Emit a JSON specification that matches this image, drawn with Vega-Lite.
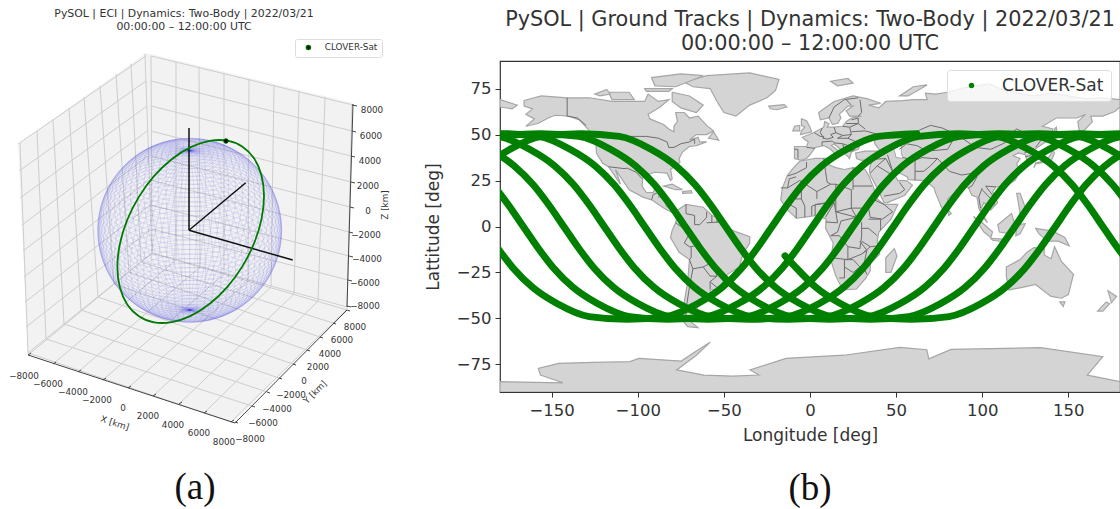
{
"$schema":"https://vega.github.io/schema/vega-lite/v6.json",
"background":"white",
"padding":{"left":0,"right":0,"top":7,"bottom":0},
"bounds":"flush",
"spacing":80,
"config":{"font":"DejaVu Sans","view":{"stroke":null}},
"resolve":{"scale":{"color":"independent"},"legend":{"color":"independent"}},
"datasets":{
"panes":[
{"g":"a","u":18,"v":143},{"g":"a","u":146,"v":52},{"g":"a","u":152,"v":250},{"g":"a","u":28,"v":353},
{"g":"b","u":146,"v":52},{"g":"b","u":353,"v":102},{"g":"b","u":347,"v":307},{"g":"b","u":152,"v":250},
{"g":"c","u":28,"v":353},{"g":"c","u":152,"v":250},{"g":"c","u":347,"v":307},{"g":"c","u":233,"v":421}
],
"grid":[
{"u":151,"v":55,"u2":152,"v2":252},{"u":176,"v":61,"u2":176,"v2":259},{"u":199,"v":66,"u2":200,"v2":266},{"u":224,"v":72,"u2":224,"v2":273},{"u":249,"v":78,"u2":248,"v2":280},{"u":274,"v":84,"u2":271,"v2":286},{"u":299,"v":90,"u2":294,"v2":293},{"u":325,"v":96,"u2":318,"v2":300},{"u":352,"v":103,"u2":347,"v2":308},
{"u":151,"v":55,"u2":353,"v2":104},{"u":151,"v":80,"u2":352,"v2":130},{"u":151,"v":105,"u2":351,"v2":155},{"u":151,"v":130,"u2":351,"v2":181},{"u":151,"v":155,"u2":350,"v2":206},{"u":151,"v":179,"u2":349,"v2":231},{"u":151,"v":204,"u2":349,"v2":255},{"u":152,"v":228,"u2":348,"v2":279},{"u":152,"v":252,"u2":347,"v2":306},
{"u":18,"v":143,"u2":146,"v2":55},{"u":19,"v":170,"u2":146,"v2":80},{"u":20,"v":197,"u2":147,"v2":105},{"u":22,"v":224,"u2":147,"v2":130},{"u":23,"v":250,"u2":148,"v2":155},{"u":24,"v":276,"u2":149,"v2":179},{"u":25,"v":301,"u2":150,"v2":204},{"u":26,"v":326,"u2":151,"v2":228},{"u":28,"v":352,"u2":152,"v2":252},
{"u":20,"v":142,"u2":28,"v2":352},{"u":37,"v":130,"u2":46,"v2":338},{"u":53,"v":118,"u2":64,"v2":323},{"u":69,"v":107,"u2":81,"v2":309},{"u":84,"v":96,"u2":98,"v2":296},{"u":100,"v":85,"u2":114,"v2":283},{"u":116,"v":73,"u2":129,"v2":271},{"u":131,"v":63,"u2":141,"v2":261},{"u":145,"v":53,"u2":152,"v2":252},
{"u":152,"v":252,"u2":28,"v2":354},{"u":176,"v":259,"u2":53,"v2":363},{"u":200,"v":266,"u2":78,"v2":371},{"u":224,"v":273,"u2":103,"v2":379},{"u":248,"v":280,"u2":128,"v2":387},{"u":271,"v":286,"u2":153,"v2":395},{"u":294,"v":293,"u2":179,"v2":403},{"u":318,"v":300,"u2":204,"v2":412},{"u":347,"v":308,"u2":231,"v2":421},
{"u":28,"v":352,"u2":231,"v2":421},{"u":46,"v":338,"u2":252,"v2":405},{"u":64,"v":323,"u2":267,"v2":391},{"u":81,"v":309,"u2":279,"v2":377},{"u":98,"v":296,"u2":293,"v2":363},{"u":114,"v":283,"u2":307,"v2":349},{"u":129,"v":271,"u2":320,"v2":336},{"u":141,"v":261,"u2":333,"v2":322},{"u":152,"v":252,"u2":347,"v2":309}
],
"axes3d":[
{"u":28,"v":354,"u2":235,"v2":422},{"u":235,"v":422,"u2":347,"v2":309},{"u":353,"v":103,"u2":347,"v2":306},
{"u":28,"v":354,"u2":31,"v2":352},{"u":53,"v":363,"u2":56,"v2":361},{"u":78,"v":371,"u2":81,"v2":369},{"u":103,"v":379,"u2":106,"v2":377},{"u":128,"v":387,"u2":131,"v2":385},{"u":153,"v":395,"u2":156,"v2":393},{"u":179,"v":403,"u2":182,"v2":401},{"u":204,"v":412,"u2":207,"v2":410},{"u":231,"v":421,"u2":234,"v2":419},
{"u":235,"v":421,"u2":238,"v2":422},{"u":252,"v":405,"u2":255,"v2":406},{"u":267,"v":391,"u2":270,"v2":392},{"u":279,"v":377,"u2":282,"v2":378},{"u":293,"v":363,"u2":296,"v2":364},{"u":307,"v":349,"u2":310,"v2":350},{"u":320,"v":336,"u2":323,"v2":337},{"u":333,"v":322,"u2":336,"v2":323},{"u":347,"v":309,"u2":350,"v2":310},
{"u":352,"v":104,"u2":357,"v2":105},{"u":352,"v":130,"u2":356,"v2":131},{"u":351,"v":155,"u2":355,"v2":156},{"u":351,"v":181,"u2":355,"v2":182},{"u":350,"v":206,"u2":354,"v2":207},{"u":349,"v":231,"u2":353,"v2":232},{"u":349,"v":255,"u2":353,"v2":256},{"u":348,"v":279,"u2":352,"v2":280},{"u":347,"v":305,"u2":351,"v2":306}
],
"parallels":[
{"u":189.7,"v":229.3,"k":1},{"u":189.7,"v":225.1,"k":0.9986},{"u":189.7,"v":233.5,"k":0.9986},{"u":189.7,"v":221,"k":0.9945},{"u":189.7,"v":237.6,"k":0.9945},{"u":189.7,"v":216.8,"k":0.9877},{"u":189.7,"v":241.8,"k":0.9877},{"u":189.7,"v":212.7,"k":0.9781},{"u":189.7,"v":245.9,"k":0.9781},{"u":189.7,"v":208.7,"k":0.9659},{"u":189.7,"v":249.9,"k":0.9659},{"u":189.7,"v":204.7,"k":0.9511},{"u":189.7,"v":253.9,"k":0.9511},{"u":189.7,"v":200.7,"k":0.9336},{"u":189.7,"v":257.9,"k":0.9336},{"u":189.7,"v":196.9,"k":0.9135},{"u":189.7,"v":261.7,"k":0.9135},{"u":189.7,"v":193.1,"k":0.891},{"u":189.7,"v":265.5,"k":0.891},{"u":189.7,"v":189.5,"k":0.866},{"u":189.7,"v":269.2,"k":0.866},{"u":189.7,"v":185.9,"k":0.8387},{"u":189.7,"v":272.7,"k":0.8387},{"u":189.7,"v":182.5,"k":0.809},{"u":189.7,"v":276.2,"k":0.809},{"u":189.7,"v":179.2,"k":0.7771},{"u":189.7,"v":279.5,"k":0.7771},{"u":189.7,"v":176,"k":0.7431},{"u":189.7,"v":282.6,"k":0.7431},{"u":189.7,"v":172.9,"k":0.7071},{"u":189.7,"v":285.7,"k":0.7071},{"u":189.7,"v":170.1,"k":0.6691},{"u":189.7,"v":288.5,"k":0.6691},{"u":189.7,"v":167.4,"k":0.6293},{"u":189.7,"v":291.2,"k":0.6293},{"u":189.7,"v":164.8,"k":0.5878},{"u":189.7,"v":293.8,"k":0.5878},{"u":189.7,"v":162.5,"k":0.5446},{"u":189.7,"v":296.1,"k":0.5446},{"u":189.7,"v":160.3,"k":0.5},{"u":189.7,"v":298.3,"k":0.5},{"u":189.7,"v":158.3,"k":0.454},{"u":189.7,"v":300.3,"k":0.454},{"u":189.7,"v":156.5,"k":0.4067},{"u":189.7,"v":302.1,"k":0.4067},{"u":189.7,"v":154.9,"k":0.3584},{"u":189.7,"v":303.7,"k":0.3584},{"u":189.7,"v":153.5,"k":0.309},{"u":189.7,"v":305.1,"k":0.309},{"u":189.7,"v":152.3,"k":0.2588},{"u":189.7,"v":306.3,"k":0.2588},{"u":189.7,"v":151.3,"k":0.2079},{"u":189.7,"v":307.3,"k":0.2079},{"u":189.7,"v":150,"k":0.1045},{"u":189.7,"v":308.6,"k":0.1045},{"u":189.7,"v":149.7,"k":0.052},{"u":189.7,"v":308.9,"k":0.052},{"u":189.7,"v":149.6,"k":0.025},{"u":189.7,"v":309,"k":0.025}
],
"meridians":[
{"u":189.7,"v":229.3,"q":"m0","rot":0},{"u":189.7,"v":229.3,"q":"m5","rot":350.1},{"u":189.7,"v":229.3,"q":"m10","rot":340.6},{"u":189.7,"v":229.3,"q":"m15","rot":331.8},{"u":189.7,"v":229.3,"q":"m20","rot":323.9},{"u":189.7,"v":229.3,"q":"m25","rot":317},{"u":189.7,"v":229.3,"q":"m30","rot":310.9},{"u":189.7,"v":229.3,"q":"m35","rot":305.5},{"u":189.7,"v":229.3,"q":"m40","rot":300.8},{"u":189.7,"v":229.3,"q":"m45","rot":296.6},{"u":189.7,"v":229.3,"q":"m50","rot":292.8},{"u":189.7,"v":229.3,"q":"m55","rot":289.3},{"u":189.7,"v":229.3,"q":"m60","rot":286.1},{"u":189.7,"v":229.3,"q":"m65","rot":283.1},{"u":189.7,"v":229.3,"q":"m70","rot":280.3},{"u":189.7,"v":229.3,"q":"m75","rot":277.6},{"u":189.7,"v":229.3,"q":"m80","rot":275},{"u":189.7,"v":229.3,"q":"m85","rot":272.5},{"u":189.7,"v":229.3,"q":"m90","rot":270},{"u":189.7,"v":229.3,"q":"m85","rot":267.5},{"u":189.7,"v":229.3,"q":"m80","rot":265},{"u":189.7,"v":229.3,"q":"m75","rot":262.4},{"u":189.7,"v":229.3,"q":"m70","rot":259.7},{"u":189.7,"v":229.3,"q":"m65","rot":256.9},{"u":189.7,"v":229.3,"q":"m60","rot":253.9},{"u":189.7,"v":229.3,"q":"m55","rot":250.7},{"u":189.7,"v":229.3,"q":"m50","rot":247.2},{"u":189.7,"v":229.3,"q":"m45","rot":243.4},{"u":189.7,"v":229.3,"q":"m40","rot":239.2},{"u":189.7,"v":229.3,"q":"m35","rot":234.5},{"u":189.7,"v":229.3,"q":"m30","rot":229.1},{"u":189.7,"v":229.3,"q":"m25","rot":223},{"u":189.7,"v":229.3,"q":"m20","rot":216.1},{"u":189.7,"v":229.3,"q":"m15","rot":208.2},{"u":189.7,"v":229.3,"q":"m10","rot":199.4},{"u":189.7,"v":229.3,"q":"m5","rot":189.9}
],
"orbit":[
{"o":0,"u":264,"v":195},{"o":1,"u":261.5,"v":174.4},{"o":2,"u":254.2,"v":157.6},{"o":3,"u":242.5,"v":145.8},{"o":4,"u":227.4,"v":139.7},{"o":5,"u":209.7,"v":139.9},{"o":6,"u":190.7,"v":146.1},{"o":7,"u":171.7,"v":158.2},{"o":8,"u":154,"v":175.2},{"o":9,"u":138.9,"v":195.9},{"o":10,"u":127.2,"v":219},{"o":11,"u":119.9,"v":242.9},{"o":12,"u":117.4,"v":266},{"o":13,"u":119.9,"v":286.6},{"o":14,"u":127.2,"v":303.4},{"o":15,"u":138.9,"v":315.2},{"o":16,"u":154,"v":321.3},{"o":17,"u":171.7,"v":321.1},{"o":18,"u":190.7,"v":314.9},{"o":19,"u":209.7,"v":302.8},{"o":20,"u":227.4,"v":285.8},{"o":21,"u":242.5,"v":265.1},{"o":22,"u":254.2,"v":242},{"o":23,"u":261.5,"v":218.1}
],
"eci":[
{"u":189,"v":229.3,"u2":189,"v2":127},{"u":189,"v":229.3,"u2":245.7,"v2":181.7},{"u":189,"v":229.3,"u2":292.7,"v2":259}
],
"sat":[{"u":226,"v":140,"series":"CLOVER-Sat"}],
"labels3d":[
{"u":24,"v":375,"t":"−8000","a":0},{"u":48,"v":383,"t":"−6000","a":0},{"u":73,"v":391,"t":"−4000","a":0},{"u":97,"v":399,"t":"−2000","a":0},{"u":123,"v":407,"t":"0","a":0},{"u":148,"v":415,"t":"2000","a":0},{"u":173,"v":424,"t":"4000","a":0},{"u":199,"v":432,"t":"6000","a":0},{"u":224,"v":441,"t":"8000","a":0},
{"u":250,"v":438,"t":"−8000","a":0},{"u":263,"v":422,"t":"−6000","a":0},{"u":277,"v":408,"t":"−4000","a":0},{"u":291,"v":394,"t":"−2000","a":0},{"u":304,"v":380,"t":"0","a":0},{"u":318,"v":366,"t":"2000","a":0},{"u":330,"v":353,"t":"4000","a":0},{"u":342,"v":339,"t":"6000","a":0},{"u":355,"v":326,"t":"8000","a":0},
{"u":372,"v":109,"t":"8000","a":0},{"u":371,"v":135,"t":"6000","a":0},{"u":370,"v":160,"t":"4000","a":0},{"u":368,"v":185,"t":"2000","a":0},{"u":368,"v":210,"t":"0","a":0},{"u":366,"v":234,"t":"−2000","a":0},{"u":367,"v":258,"t":"−4000","a":0},{"u":365,"v":282,"t":"−6000","a":0},{"u":365,"v":305,"t":"−8000","a":0},
{"u":115,"v":422,"t":"X [km]","a":18},{"u":315,"v":391,"t":"Y [km]","a":315},{"u":385,"v":204,"t":"Z [km]","a":270}
],
"capA":[{"u":195,"v":487,"t":"(a)"}],
"capB":[{"lon":0,"lat":-142.9,"t":"(b)"}],
"satB":[{"lon":-14.5,"lat":-16,"series":"CLOVER-Sat"}],
"land":[
{"g":"na","lon":-166,"lat":68.5},{"g":"na","lon":-156,"lat":71},{"g":"na","lon":-141,"lat":70},{"g":"na","lon":-128,"lat":70},{"g":"na","lon":-115,"lat":68},{"g":"na","lon":-108,"lat":68},{"g":"na","lon":-96,"lat":68},{"g":"na","lon":-94,"lat":72},{"g":"na","lon":-88,"lat":68},{"g":"na","lon":-82,"lat":69},{"g":"na","lon":-87,"lat":65},{"g":"na","lon":-94,"lat":61},{"g":"na","lon":-93,"lat":58.5},{"g":"na","lon":-85,"lat":55.5},{"g":"na","lon":-82,"lat":53},{"g":"na","lon":-79,"lat":51.5},{"g":"na","lon":-79,"lat":54.5},{"g":"na","lon":-77,"lat":57},{"g":"na","lon":-78,"lat":62},{"g":"na","lon":-73,"lat":62},{"g":"na","lon":-70,"lat":59},{"g":"na","lon":-65,"lat":60},{"g":"na","lon":-60,"lat":55},{"g":"na","lon":-56,"lat":52},{"g":"na","lon":-60,"lat":50},{"g":"na","lon":-66,"lat":50},{"g":"na","lon":-70,"lat":47},{"g":"na","lon":-65,"lat":48.5},{"g":"na","lon":-64,"lat":46},{"g":"na","lon":-60,"lat":46},{"g":"na","lon":-66,"lat":44},{"g":"na","lon":-70,"lat":43.5},{"g":"na","lon":-74,"lat":40.5},{"g":"na","lon":-76,"lat":37},{"g":"na","lon":-75.5,"lat":35},{"g":"na","lon":-81,"lat":31},{"g":"na","lon":-80,"lat":26},{"g":"na","lon":-81,"lat":25},{"g":"na","lon":-83,"lat":29},{"g":"na","lon":-90,"lat":29.5},{"g":"na","lon":-97,"lat":27.5},{"g":"na","lon":-97.5,"lat":22},{"g":"na","lon":-95,"lat":18.5},{"g":"na","lon":-91,"lat":18.5},{"g":"na","lon":-90,"lat":21},{"g":"na","lon":-87,"lat":21},{"g":"na","lon":-88,"lat":16},{"g":"na","lon":-83.5,"lat":15},{"g":"na","lon":-83.5,"lat":11},{"g":"na","lon":-80,"lat":9},{"g":"na","lon":-77.5,"lat":8.5},{"g":"na","lon":-80,"lat":7.5},{"g":"na","lon":-85,"lat":10},{"g":"na","lon":-92,"lat":14.5},{"g":"na","lon":-97,"lat":16},{"g":"na","lon":-105,"lat":20},{"g":"na","lon":-109,"lat":25.5},{"g":"na","lon":-113,"lat":31},{"g":"na","lon":-110,"lat":23},{"g":"na","lon":-117,"lat":32.5},{"g":"na","lon":-120.5,"lat":34.5},{"g":"na","lon":-124,"lat":40},{"g":"na","lon":-124.5,"lat":48},{"g":"na","lon":-130,"lat":54},{"g":"na","lon":-134,"lat":58},{"g":"na","lon":-140,"lat":60},{"g":"na","lon":-148,"lat":60.5},{"g":"na","lon":-152,"lat":59},{"g":"na","lon":-158,"lat":56},{"g":"na","lon":-165,"lat":54.5},{"g":"na","lon":-160,"lat":58.5},{"g":"na","lon":-165,"lat":61},{"g":"na","lon":-161,"lat":64},{"g":"na","lon":-166,"lat":65.5},
{"g":"gl","lon":-73,"lat":78.5},{"g":"gl","lon":-60,"lat":82},{"g":"gl","lon":-35,"lat":83.5},{"g":"gl","lon":-18,"lat":80},{"g":"gl","lon":-20,"lat":74},{"g":"gl","lon":-25,"lat":70},{"g":"gl","lon":-35,"lat":66},{"g":"gl","lon":-43,"lat":60},{"g":"gl","lon":-50,"lat":62},{"g":"gl","lon":-54,"lat":68},{"g":"gl","lon":-58,"lat":75},{"g":"gl","lon":-68,"lat":76},
{"g":"baf","lon":-80,"lat":73},{"g":"baf","lon":-70,"lat":71},{"g":"baf","lon":-62,"lat":66},{"g":"baf","lon":-66,"lat":62},{"g":"baf","lon":-75,"lat":64.5},{"g":"baf","lon":-80,"lat":68},
{"g":"vic","lon":-117,"lat":73},{"g":"vic","lon":-105,"lat":73},{"g":"vic","lon":-102,"lat":69},{"g":"vic","lon":-115,"lat":69},
{"g":"ell","lon":-90,"lat":76.5},{"g":"ell","lon":-78,"lat":76},{"g":"ell","lon":-62,"lat":82},{"g":"ell","lon":-75,"lat":83},{"g":"ell","lon":-92,"lat":81},
{"g":"ban","lon":-125,"lat":72},{"g":"ban","lon":-118,"lat":74.5},{"g":"ban","lon":-116,"lat":72},{"g":"ban","lon":-122,"lat":71},
{"g":"dev","lon":-96,"lat":75},{"g":"dev","lon":-80,"lat":75},{"g":"dev","lon":-82,"lat":73.5},{"g":"dev","lon":-95,"lat":73.5},
{"g":"nf","lon":-59,"lat":48},{"g":"nf","lon":-53,"lat":47},{"g":"nf","lon":-56,"lat":51.5},
{"g":"ice","lon":-24,"lat":65.5},{"g":"ice","lon":-15,"lat":66.3},{"g":"ice","lon":-13.5,"lat":65},{"g":"ice","lon":-19,"lat":63.5},{"g":"ice","lon":-23,"lat":64},
{"g":"cu","lon":-85,"lat":22},{"g":"cu","lon":-80,"lat":23},{"g":"cu","lon":-74,"lat":20},{"g":"cu","lon":-78,"lat":20},
{"g":"hi","lon":-74,"lat":19},{"g":"hi","lon":-69,"lat":19.5},{"g":"hi","lon":-68.5,"lat":18.3},{"g":"hi","lon":-74,"lat":18},
{"g":"sa","lon":-77.5,"lat":8.5},{"g":"sa","lon":-72,"lat":12},{"g":"sa","lon":-62,"lat":10.5},{"g":"sa","lon":-57,"lat":6},{"g":"sa","lon":-51,"lat":4},{"g":"sa","lon":-50,"lat":0},{"g":"sa","lon":-44,"lat":-2.5},{"g":"sa","lon":-35,"lat":-5.5},{"g":"sa","lon":-35,"lat":-9},{"g":"sa","lon":-39,"lat":-15},{"g":"sa","lon":-41,"lat":-22},{"g":"sa","lon":-48,"lat":-26},{"g":"sa","lon":-53,"lat":-34},{"g":"sa","lon":-58,"lat":-34.5},{"g":"sa","lon":-57,"lat":-38},{"g":"sa","lon":-62,"lat":-39},{"g":"sa","lon":-65,"lat":-42},{"g":"sa","lon":-66,"lat":-47},{"g":"sa","lon":-69,"lat":-52},{"g":"sa","lon":-65,"lat":-55},{"g":"sa","lon":-71,"lat":-54.5},{"g":"sa","lon":-75,"lat":-50},{"g":"sa","lon":-73,"lat":-41},{"g":"sa","lon":-71,"lat":-30},{"g":"sa","lon":-70,"lat":-18},{"g":"sa","lon":-76,"lat":-14},{"g":"sa","lon":-81,"lat":-6},{"g":"sa","lon":-80,"lat":-2},{"g":"sa","lon":-78,"lat":2},{"g":"sa","lon":-77,"lat":7},
{"g":"af","lon":-6,"lat":35.5},{"g":"af","lon":3,"lat":37},{"g":"af","lon":10,"lat":37},{"g":"af","lon":11,"lat":33.5},{"g":"af","lon":15,"lat":32},{"g":"af","lon":20,"lat":31},{"g":"af","lon":25,"lat":32},{"g":"af","lon":32,"lat":31},{"g":"af","lon":34,"lat":28},{"g":"af","lon":37,"lat":21},{"g":"af","lon":39,"lat":15},{"g":"af","lon":43,"lat":12},{"g":"af","lon":51,"lat":12},{"g":"af","lon":47,"lat":4},{"g":"af","lon":40,"lat":-3},{"g":"af","lon":39,"lat":-8},{"g":"af","lon":40.5,"lat":-15},{"g":"af","lon":35,"lat":-20},{"g":"af","lon":35,"lat":-24},{"g":"af","lon":32.5,"lat":-28},{"g":"af","lon":27,"lat":-34},{"g":"af","lon":19,"lat":-34.5},{"g":"af","lon":15,"lat":-27},{"g":"af","lon":12,"lat":-18},{"g":"af","lon":13.5,"lat":-9},{"g":"af","lon":9,"lat":-1},{"g":"af","lon":9.5,"lat":4},{"g":"af","lon":4,"lat":6},{"g":"af","lon":-4,"lat":5},{"g":"af","lon":-8,"lat":4.5},{"g":"af","lon":-13,"lat":9},{"g":"af","lon":-17,"lat":14.5},{"g":"af","lon":-16,"lat":21},{"g":"af","lon":-13,"lat":28},{"g":"af","lon":-9.5,"lat":32},
{"g":"mad","lon":44,"lat":-17},{"g":"mad","lon":49,"lat":-12},{"g":"mad","lon":50.5,"lat":-16},{"g":"mad","lon":47,"lat":-25},{"g":"mad","lon":44,"lat":-25},
{"g":"ea","lon":-9,"lat":37},{"g":"ea","lon":-9,"lat":43.5},{"g":"ea","lon":-2,"lat":43.5},{"g":"ea","lon":-1,"lat":46},{"g":"ea","lon":-4.5,"lat":48.5},{"g":"ea","lon":2,"lat":51},{"g":"ea","lon":8,"lat":54},{"g":"ea","lon":8.5,"lat":57},{"g":"ea","lon":11,"lat":56},{"g":"ea","lon":10,"lat":54},{"g":"ea","lon":14,"lat":54},{"g":"ea","lon":19,"lat":54.5},{"g":"ea","lon":21,"lat":57},{"g":"ea","lon":24,"lat":59},{"g":"ea","lon":30,"lat":60},{"g":"ea","lon":23,"lat":60},{"g":"ea","lon":21,"lat":63},{"g":"ea","lon":25,"lat":65.5},{"g":"ea","lon":22,"lat":65.5},{"g":"ea","lon":17,"lat":61},{"g":"ea","lon":18,"lat":59},{"g":"ea","lon":16,"lat":56},{"g":"ea","lon":13,"lat":55.5},{"g":"ea","lon":11,"lat":59},{"g":"ea","lon":6,"lat":58},{"g":"ea","lon":5,"lat":62},{"g":"ea","lon":14,"lat":68},{"g":"ea","lon":25,"lat":71},{"g":"ea","lon":33,"lat":69.5},{"g":"ea","lon":41,"lat":67},{"g":"ea","lon":34,"lat":66},{"g":"ea","lon":40,"lat":64.5},{"g":"ea","lon":44,"lat":68},{"g":"ea","lon":54,"lat":68.5},{"g":"ea","lon":60,"lat":69},{"g":"ea","lon":68,"lat":69},{"g":"ea","lon":67,"lat":72.5},{"g":"ea","lon":73,"lat":72},{"g":"ea","lon":80,"lat":73},{"g":"ea","lon":90,"lat":75.5},{"g":"ea","lon":104,"lat":77.5},{"g":"ea","lon":113,"lat":74},{"g":"ea","lon":130,"lat":71},{"g":"ea","lon":140,"lat":72.5},{"g":"ea","lon":160,"lat":69.5},{"g":"ea","lon":170,"lat":70},{"g":"ea","lon":180,"lat":69},{"g":"ea","lon":180,"lat":65},{"g":"ea","lon":177,"lat":62.5},{"g":"ea","lon":170,"lat":60},{"g":"ea","lon":163,"lat":60},{"g":"ea","lon":164,"lat":57},{"g":"ea","lon":160,"lat":53},{"g":"ea","lon":156.5,"lat":51},{"g":"ea","lon":155.5,"lat":57},{"g":"ea","lon":160,"lat":61},{"g":"ea","lon":155,"lat":59},{"g":"ea","lon":143,"lat":59},{"g":"ea","lon":135,"lat":54.5},{"g":"ea","lon":141,"lat":53},{"g":"ea","lon":140,"lat":48},{"g":"ea","lon":132,"lat":43},{"g":"ea","lon":128,"lat":40},{"g":"ea","lon":129,"lat":36},{"g":"ea","lon":126.5,"lat":34.5},{"g":"ea","lon":125,"lat":39},{"g":"ea","lon":121,"lat":40},{"g":"ea","lon":118,"lat":38.5},{"g":"ea","lon":122,"lat":37},{"g":"ea","lon":120,"lat":34},{"g":"ea","lon":122,"lat":30},{"g":"ea","lon":119,"lat":25},{"g":"ea","lon":113,"lat":22},{"g":"ea","lon":108,"lat":21.5},{"g":"ea","lon":106,"lat":19},{"g":"ea","lon":109,"lat":13},{"g":"ea","lon":105,"lat":9},{"g":"ea","lon":101,"lat":13},{"g":"ea","lon":99,"lat":9},{"g":"ea","lon":103,"lat":2},{"g":"ea","lon":100.5,"lat":5},{"g":"ea","lon":98,"lat":10},{"g":"ea","lon":97,"lat":16},{"g":"ea","lon":94,"lat":17},{"g":"ea","lon":92,"lat":21},{"g":"ea","lon":88,"lat":22},{"g":"ea","lon":80,"lat":15},{"g":"ea","lon":80,"lat":10},{"g":"ea","lon":77.5,"lat":8},{"g":"ea","lon":73,"lat":18},{"g":"ea","lon":72,"lat":21},{"g":"ea","lon":67,"lat":25},{"g":"ea","lon":57,"lat":25.5},{"g":"ea","lon":56.5,"lat":27},{"g":"ea","lon":50,"lat":30},{"g":"ea","lon":48,"lat":30},{"g":"ea","lon":51,"lat":25},{"g":"ea","lon":56,"lat":25},{"g":"ea","lon":59.5,"lat":22.5},{"g":"ea","lon":55,"lat":17},{"g":"ea","lon":45,"lat":13},{"g":"ea","lon":43,"lat":13},{"g":"ea","lon":39,"lat":21},{"g":"ea","lon":35,"lat":28},{"g":"ea","lon":34.5,"lat":31},{"g":"ea","lon":36,"lat":36.5},{"g":"ea","lon":30,"lat":36},{"g":"ea","lon":27,"lat":37},{"g":"ea","lon":26.5,"lat":40},{"g":"ea","lon":32,"lat":41},{"g":"ea","lon":41,"lat":41},{"g":"ea","lon":38,"lat":44.5},{"g":"ea","lon":37,"lat":47},{"g":"ea","lon":33,"lat":46},{"g":"ea","lon":30,"lat":46},{"g":"ea","lon":28,"lat":42},{"g":"ea","lon":24,"lat":40.5},{"g":"ea","lon":23,"lat":37},{"g":"ea","lon":20,"lat":40},{"g":"ea","lon":14,"lat":45},{"g":"ea","lon":12.5,"lat":44},{"g":"ea","lon":18,"lat":40},{"g":"ea","lon":16,"lat":38},{"g":"ea","lon":12,"lat":42},{"g":"ea","lon":8,"lat":44},{"g":"ea","lon":3,"lat":43},{"g":"ea","lon":0,"lat":39},{"g":"ea","lon":-2,"lat":37},{"g":"ea","lon":-5,"lat":36},
{"g":"gb","lon":-5.5,"lat":50},{"g":"gb","lon":1,"lat":51.5},{"g":"gb","lon":0,"lat":54},{"g":"gb","lon":-2,"lat":57.5},{"g":"gb","lon":-5,"lat":58.5},{"g":"gb","lon":-5,"lat":55},{"g":"gb","lon":-3,"lat":54},{"g":"gb","lon":-5,"lat":52},
{"g":"ie","lon":-10,"lat":52},{"g":"ie","lon":-6,"lat":52},{"g":"ie","lon":-6,"lat":55},{"g":"ie","lon":-9,"lat":54.5},
{"g":"sv","lon":12,"lat":79},{"g":"sv","lon":22,"lat":80.5},{"g":"sv","lon":25,"lat":78},{"g":"sv","lon":16,"lat":76.5},
{"g":"nz1","lon":52,"lat":71},{"g":"nz1","lon":57,"lat":71},{"g":"nz1","lon":68,"lat":77},{"g":"nz1","lon":60,"lat":76},
{"g":"sk","lon":142,"lat":46},{"g":"sk","lon":143.5,"lat":50},{"g":"sk","lon":143,"lat":54},{"g":"sk","lon":142,"lat":53},
{"g":"jp","lon":130,"lat":32},{"g":"jp","lon":131,"lat":34},{"g":"jp","lon":136,"lat":35},{"g":"jp","lon":140,"lat":35.5},{"g":"jp","lon":142,"lat":40},{"g":"jp","lon":141,"lat":41.5},{"g":"jp","lon":139,"lat":38},{"g":"jp","lon":135,"lat":35.5},{"g":"jp","lon":131,"lat":34.5},
{"g":"ho","lon":140,"lat":42},{"g":"ho","lon":145,"lat":43.5},{"g":"ho","lon":142,"lat":45.5},
{"g":"sl","lon":80,"lat":9.5},{"g":"sl","lon":82,"lat":7},{"g":"sl","lon":80.5,"lat":6},
{"g":"ph","lon":120,"lat":18},{"g":"ph","lon":122,"lat":18},{"g":"ph","lon":124,"lat":13},{"g":"ph","lon":126,"lat":7},{"g":"ph","lon":122,"lat":7},{"g":"ph","lon":121,"lat":13},
{"g":"bo","lon":109,"lat":1},{"g":"bo","lon":117,"lat":7},{"g":"bo","lon":119,"lat":1},{"g":"bo","lon":116,"lat":-4},{"g":"bo","lon":110,"lat":-3},
{"g":"su","lon":95,"lat":5.5},{"g":"su","lon":100,"lat":2},{"g":"su","lon":106,"lat":-3},{"g":"su","lon":105,"lat":-6},{"g":"su","lon":101,"lat":-3},
{"g":"ja","lon":105,"lat":-6.5},{"g":"ja","lon":114,"lat":-7},{"g":"ja","lon":114,"lat":-8.5},{"g":"ja","lon":106,"lat":-7.5},
{"g":"ce","lon":119.5,"lat":-5},{"g":"ce","lon":120,"lat":1},{"g":"ce","lon":125,"lat":1.5},{"g":"ce","lon":122,"lat":-4},
{"g":"ng","lon":131,"lat":-1},{"g":"ng","lon":141,"lat":-2.5},{"g":"ng","lon":148,"lat":-6},{"g":"ng","lon":150.5,"lat":-10.5},{"g":"ng","lon":144,"lat":-8},{"g":"ng","lon":138,"lat":-8},{"g":"ng","lon":133,"lat":-4},
{"g":"au","lon":114,"lat":-22},{"g":"au","lon":122,"lat":-18},{"g":"au","lon":126,"lat":-14},{"g":"au","lon":130,"lat":-11.5},{"g":"au","lon":136,"lat":-12},{"g":"au","lon":136,"lat":-15.5},{"g":"au","lon":140,"lat":-17.5},{"g":"au","lon":142,"lat":-11},{"g":"au","lon":146,"lat":-19},{"g":"au","lon":153,"lat":-26},{"g":"au","lon":150,"lat":-37},{"g":"au","lon":146,"lat":-39},{"g":"au","lon":140,"lat":-38},{"g":"au","lon":135,"lat":-34.5},{"g":"au","lon":131,"lat":-31.5},{"g":"au","lon":124,"lat":-33},{"g":"au","lon":115.5,"lat":-34.5},{"g":"au","lon":114,"lat":-27},
{"g":"ta","lon":145,"lat":-41},{"g":"ta","lon":148,"lat":-41},{"g":"ta","lon":147,"lat":-43.5},
{"g":"nzs","lon":167,"lat":-46},{"g":"nzs","lon":172,"lat":-41},{"g":"nzs","lon":174,"lat":-42},{"g":"nzs","lon":170,"lat":-46},
{"g":"nzn","lon":173,"lat":-35},{"g":"nzn","lon":178,"lat":-38},{"g":"nzn","lon":175,"lat":-41.5},{"g":"nzn","lon":174,"lat":-38},
{"g":"ch","lon":-180,"lat":69},{"g":"ch","lon":-170,"lat":66},{"g":"ch","lon":-173,"lat":64},{"g":"ch","lon":-180,"lat":65},
{"g":"an","lon":-180,"lat":-84.4},{"g":"an","lon":-143.5,"lat":-85},{"g":"an","lon":-156.5,"lat":-80.8},{"g":"an","lon":-157.8,"lat":-77.2},{"g":"an","lon":-146,"lat":-74.4},{"g":"an","lon":-125.4,"lat":-73.9},{"g":"an","lon":-104.6,"lat":-73.5},{"g":"an","lon":-99.4,"lat":-71.7},{"g":"an","lon":-74.8,"lat":-73.2},{"g":"an","lon":-60.6,"lat":-64.4},{"g":"an","lon":-58,"lat":-63},{"g":"an","lon":-66,"lat":-70},{"g":"an","lon":-77.4,"lat":-78},{"g":"an","lon":-61.6,"lat":-80.8},{"g":"an","lon":-45,"lat":-81.4},{"g":"an","lon":-29.6,"lat":-80.8},{"g":"an","lon":-34.8,"lat":-78},{"g":"an","lon":-13.9,"lat":-71.7},{"g":"an","lon":19.8,"lat":-70},{"g":"an","lon":52.2,"lat":-65.7},{"g":"an","lon":67.8,"lat":-67},{"g":"an","lon":69,"lat":-72},{"g":"an","lon":81.9,"lat":-66.8},{"g":"an","lon":133.9,"lat":-65.9},{"g":"an","lon":170,"lat":-70.8},{"g":"an","lon":161,"lat":-80.8},{"g":"an","lon":180,"lat":-84.4},{"g":"an","lon":180,"lat":-90},{"g":"an","lon":-180,"lat":-90}
],
"caspian":[{"g":"cs","lon":47,"lat":45},{"g":"cs","lon":53,"lat":46.5},{"g":"cs","lon":53,"lat":40},{"g":"cs","lon":54,"lat":37},{"g":"cs","lon":50,"lat":37.5},{"g":"cs","lon":49,"lat":41}],
"borders":[
{"g":1,"lon":-141,"lat":70},{"g":1,"lon":-141,"lat":60},{"g":1,"lon":-135,"lat":59},{"g":1,"lon":-130,"lat":55},
{"g":2,"lon":-123,"lat":49},{"g":2,"lon":-95,"lat":49},{"g":2,"lon":-88,"lat":48},{"g":2,"lon":-83,"lat":46},{"g":2,"lon":-82,"lat":43},{"g":2,"lon":-79,"lat":43},{"g":2,"lon":-75,"lat":45},{"g":2,"lon":-70,"lat":46},{"g":2,"lon":-67,"lat":47.5},{"g":2,"lon":-67,"lat":45},
{"g":3,"lon":-117,"lat":32.5},{"g":3,"lon":-108,"lat":31.5},{"g":3,"lon":-106,"lat":31.7},{"g":3,"lon":-101,"lat":29.5},{"g":3,"lon":-97.5,"lat":26},
{"g":4,"lon":-92,"lat":14.5},{"g":4,"lon":-91,"lat":17.5},{"g":4,"lon":-89,"lat":18},
{"g":5,"lon":-72,"lat":12},{"g":5,"lon":-72,"lat":7},{"g":5,"lon":-67,"lat":6},{"g":5,"lon":-67,"lat":1},
{"g":6,"lon":-78,"lat":2},{"g":6,"lon":-75,"lat":0},{"g":6,"lon":-70,"lat":-4},{"g":6,"lon":-73,"lat":-9},{"g":6,"lon":-70,"lat":-11},{"g":6,"lon":-69,"lat":-11},{"g":6,"lon":-69,"lat":-17},{"g":6,"lon":-70,"lat":-18},
{"g":7,"lon":-69,"lat":-11},{"g":7,"lon":-65,"lat":-10},{"g":7,"lon":-60,"lat":-14},{"g":7,"lon":-58,"lat":-18},{"g":7,"lon":-58,"lat":-20},
{"g":8,"lon":-70,"lat":-18},{"g":8,"lon":-68,"lat":-23},{"g":8,"lon":-70,"lat":-33},{"g":8,"lon":-72,"lat":-45},{"g":8,"lon":-72,"lat":-52},
{"g":9,"lon":-68,"lat":-23},{"g":9,"lon":-62,"lat":-22},{"g":9,"lon":-58,"lat":-20},{"g":9,"lon":-55,"lat":-24},{"g":9,"lon":-54,"lat":-27},{"g":9,"lon":-58,"lat":-27},{"g":9,"lon":-62,"lat":-22},
{"g":10,"lon":-54,"lat":-27},{"g":10,"lon":-58,"lat":-30},{"g":10,"lon":-58,"lat":-34},
{"g":11,"lon":-58,"lat":-30},{"g":11,"lon":-53,"lat":-34},
{"g":12,"lon":-60,"lat":8},{"g":12,"lon":-60,"lat":5},{"g":12,"lon":-64,"lat":1},{"g":12,"lon":-67,"lat":1},
{"g":13,"lon":-57,"lat":6},{"g":13,"lon":-57,"lat":2},
{"g":14,"lon":-54,"lat":5.5},{"g":14,"lon":-54,"lat":2},
{"g":15,"lon":-60,"lat":2},{"g":15,"lon":-52,"lat":2.5},
{"g":16,"lon":-2,"lat":35},{"g":16,"lon":-2,"lat":32},{"g":16,"lon":-8,"lat":29},{"g":16,"lon":-13,"lat":27.5},
{"g":17,"lon":8,"lat":37},{"g":17,"lon":9,"lat":30},{"g":17,"lon":10,"lat":24},{"g":17,"lon":12,"lat":23},
{"g":18,"lon":25,"lat":32},{"g":18,"lon":25,"lat":20},
{"g":19,"lon":25,"lat":22},{"g":19,"lon":36,"lat":22},
{"g":20,"lon":-17,"lat":21},{"g":20,"lon":-13,"lat":21},{"g":20,"lon":-12,"lat":26},{"g":20,"lon":-8,"lat":27},
{"g":21,"lon":-13,"lat":21},{"g":21,"lon":-6,"lat":25},{"g":21,"lon":4,"lat":19},{"g":21,"lon":12,"lat":23},{"g":21,"lon":15,"lat":23},{"g":21,"lon":15,"lat":14},{"g":21,"lon":4,"lat":12},
{"g":22,"lon":-12,"lat":15},{"g":22,"lon":-5,"lat":15},{"g":22,"lon":-5,"lat":25},
{"g":23,"lon":4,"lat":15},{"g":23,"lon":4,"lat":19},
{"g":24,"lon":15,"lat":23},{"g":24,"lon":24,"lat":20},{"g":24,"lon":24,"lat":10},{"g":24,"lon":15,"lat":8},{"g":24,"lon":15,"lat":14},
{"g":25,"lon":24,"lat":10},{"g":25,"lon":34,"lat":10},{"g":25,"lon":38,"lat":18},
{"g":26,"lon":3,"lat":6},{"g":26,"lon":3,"lat":12},{"g":26,"lon":14,"lat":13},{"g":26,"lon":9,"lat":5},
{"g":27,"lon":14,"lat":13},{"g":27,"lon":15,"lat":8},{"g":27,"lon":16,"lat":2},{"g":27,"lon":9,"lat":2.5},
{"g":28,"lon":15,"lat":8},{"g":28,"lon":27,"lat":5},{"g":28,"lon":24,"lat":10},
{"g":29,"lon":12,"lat":-5},{"g":29,"lon":17,"lat":-5},{"g":29,"lon":22,"lat":-11},{"g":29,"lon":29,"lat":-12},{"g":29,"lon":30,"lat":-5},{"g":29,"lon":30,"lat":2},{"g":29,"lon":27,"lat":5},{"g":29,"lon":18,"lat":3},{"g":29,"lon":16,"lat":-3},{"g":29,"lon":12,"lat":-5},
{"g":30,"lon":22,"lat":-11},{"g":30,"lon":22,"lat":-18},{"g":30,"lon":12,"lat":-17},
{"g":31,"lon":20,"lat":-18},{"g":31,"lon":20,"lat":-28},{"g":31,"lon":17,"lat":-28},
{"g":32,"lon":20,"lat":-22},{"g":32,"lon":25,"lat":-25},{"g":32,"lon":29,"lat":-22},{"g":32,"lon":25,"lat":-18},{"g":32,"lon":20,"lat":-18},
{"g":33,"lon":30,"lat":-1},{"g":33,"lon":34,"lat":-1},{"g":33,"lon":39,"lat":-5},
{"g":34,"lon":30,"lat":-8},{"g":34,"lon":35,"lat":-11},{"g":34,"lon":40,"lat":-10.5},
{"g":35,"lon":34,"lat":4},{"g":35,"lon":41,"lat":4},{"g":35,"lon":41,"lat":-2},
{"g":36,"lon":34,"lat":10},{"g":36,"lon":36,"lat":15},{"g":36,"lon":43,"lat":12},{"g":36,"lon":48,"lat":8},{"g":36,"lon":42,"lat":4},{"g":36,"lon":35,"lat":5},{"g":36,"lon":34,"lat":10},
{"g":37,"lon":22,"lat":-18},{"g":37,"lon":30,"lat":-15},{"g":37,"lon":33,"lat":-13},{"g":37,"lon":29,"lat":-8},
{"g":38,"lon":30,"lat":-15},{"g":38,"lon":35,"lat":-11},
{"g":39,"lon":33,"lat":-13},{"g":39,"lon":31,"lat":-22},{"g":39,"lon":33,"lat":-26},
{"g":40,"lon":-8,"lat":4.5},{"g":40,"lon":-8,"lat":10},{"g":40,"lon":-12,"lat":12},{"g":40,"lon":-12,"lat":15},
{"g":41,"lon":-3,"lat":5},{"g":41,"lon":-3,"lat":11},{"g":41,"lon":-5,"lat":15},
{"g":42,"lon":1,"lat":6},{"g":42,"lon":1,"lat":11},{"g":42,"lon":4,"lat":12},
{"g":43,"lon":-2,"lat":43},{"g":43,"lon":3,"lat":42.5},
{"g":44,"lon":-7,"lat":37},{"g":44,"lon":-7,"lat":42},{"g":44,"lon":-9,"lat":42},
{"g":45,"lon":2.5,"lat":51},{"g":45,"lon":6,"lat":49},{"g":45,"lon":8,"lat":49},{"g":45,"lon":7.5,"lat":47.5},
{"g":46,"lon":7,"lat":44},{"g":46,"lon":7,"lat":46},{"g":46,"lon":13,"lat":46.5},{"g":46,"lon":14,"lat":45.5},
{"g":47,"lon":7,"lat":53.5},{"g":47,"lon":6,"lat":51},{"g":47,"lon":8,"lat":48},{"g":47,"lon":10,"lat":47.5},{"g":47,"lon":13.5,"lat":48.5},{"g":47,"lon":12,"lat":50},{"g":47,"lon":15,"lat":51},{"g":47,"lon":14,"lat":54},
{"g":48,"lon":15,"lat":51},{"g":48,"lon":19,"lat":49.5},{"g":48,"lon":24,"lat":50},{"g":48,"lon":23,"lat":54},{"g":48,"lon":19,"lat":54.5},
{"g":49,"lon":24,"lat":50},{"g":49,"lon":22,"lat":48},{"g":49,"lon":28,"lat":45.5},
{"g":50,"lon":24,"lat":51.5},{"g":50,"lon":32,"lat":52},{"g":50,"lon":40,"lat":50},{"g":50,"lon":38,"lat":47},
{"g":51,"lon":23,"lat":54},{"g":51,"lon":28,"lat":56},{"g":51,"lon":32,"lat":53},
{"g":52,"lon":21,"lat":56},{"g":52,"lon":28,"lat":56},{"g":52,"lon":28,"lat":59},{"g":52,"lon":24,"lat":58},
{"g":53,"lon":28,"lat":60},{"g":53,"lon":30,"lat":62},{"g":53,"lon":29,"lat":69},
{"g":54,"lon":11,"lat":59},{"g":54,"lon":14,"lat":65},{"g":54,"lon":20,"lat":69},{"g":54,"lon":28,"lat":70},
{"g":55,"lon":24,"lat":66},{"g":55,"lon":21,"lat":69},
{"g":56,"lon":14,"lat":45.5},{"g":56,"lon":19,"lat":45},{"g":56,"lon":22,"lat":44},{"g":56,"lon":29,"lat":44},
{"g":57,"lon":19,"lat":45},{"g":57,"lon":20,"lat":41},{"g":57,"lon":24,"lat":41},{"g":57,"lon":26,"lat":42},
{"g":58,"lon":22,"lat":48},{"g":58,"lon":16,"lat":48},{"g":58,"lon":19,"lat":49.5},
{"g":59,"lon":47,"lat":50},{"g":59,"lon":50,"lat":51},{"g":59,"lon":60,"lat":51},{"g":59,"lon":70,"lat":55},{"g":59,"lon":77,"lat":53.5},{"g":59,"lon":87,"lat":49},{"g":59,"lon":98,"lat":50},{"g":59,"lon":107,"lat":50},{"g":59,"lon":116,"lat":50},{"g":59,"lon":120,"lat":53},{"g":59,"lon":127,"lat":50},{"g":59,"lon":135,"lat":48},{"g":59,"lon":131,"lat":43},
{"g":60,"lon":52,"lat":42},{"g":60,"lon":56,"lat":45},{"g":60,"lon":62,"lat":44},{"g":60,"lon":68,"lat":41},{"g":60,"lon":80,"lat":42},{"g":60,"lon":83,"lat":47},{"g":60,"lon":87,"lat":49},
{"g":61,"lon":87,"lat":49},{"g":61,"lon":96,"lat":43},{"g":61,"lon":105,"lat":42},{"g":61,"lon":112,"lat":45},{"g":61,"lon":116,"lat":47},{"g":61,"lon":116,"lat":50},
{"g":62,"lon":45,"lat":39},{"g":62,"lon":48,"lat":30},
{"g":63,"lon":54,"lat":37.5},{"g":63,"lon":61,"lat":36},{"g":63,"lon":61,"lat":31},{"g":63,"lon":61,"lat":25},
{"g":64,"lon":61,"lat":36},{"g":64,"lon":65,"lat":37.5},{"g":64,"lon":71,"lat":37},{"g":64,"lon":74,"lat":37},{"g":64,"lon":70,"lat":33},{"g":64,"lon":66,"lat":30},{"g":64,"lon":61,"lat":30},
{"g":65,"lon":74,"lat":37},{"g":65,"lon":78,"lat":33},{"g":65,"lon":74,"lat":31},{"g":65,"lon":70,"lat":25},{"g":65,"lon":68,"lat":24},
{"g":66,"lon":78,"lat":33},{"g":66,"lon":81,"lat":30},{"g":66,"lon":88,"lat":28},{"g":66,"lon":95,"lat":29},{"g":66,"lon":97,"lat":27},{"g":66,"lon":94,"lat":22},{"g":66,"lon":92,"lat":21},
{"g":67,"lon":100,"lat":21},{"g":67,"lon":98,"lat":16},{"g":67,"lon":99,"lat":10},
{"g":68,"lon":102,"lat":22},{"g":68,"lon":106,"lat":17},{"g":68,"lon":107,"lat":12},{"g":68,"lon":103,"lat":11},{"g":68,"lon":105,"lat":15},{"g":68,"lon":100,"lat":20},
{"g":69,"lon":102,"lat":22},{"g":69,"lon":108,"lat":21.5},
{"g":70,"lon":48,"lat":30},{"g":70,"lon":44,"lat":37},{"g":70,"lon":39,"lat":33},{"g":70,"lon":46,"lat":29},{"g":70,"lon":48,"lat":28.5},
{"g":71,"lon":36,"lat":36.5},{"g":71,"lon":44,"lat":37},
{"g":72,"lon":35,"lat":29},{"g":72,"lon":39,"lat":33},
{"g":73,"lon":52,"lat":24},{"g":73,"lon":55,"lat":20},{"g":73,"lon":52,"lat":18},{"g":73,"lon":43,"lat":16.5},
{"g":74,"lon":125,"lat":38},{"g":74,"lon":128,"lat":38.5},
{"g":75,"lon":124.5,"lat":40},{"g":75,"lon":130,"lat":42.5}
],
"track":[
{"g":"t0","lon":-14.5,"lat":-16},{"g":"t0","lon":-7.8,"lat":-22.7},{"g":"t0","lon":3.3,"lat":-33},{"g":"t0","lon":17.6,"lat":-41.9},{"g":"t0","lon":36.2,"lat":-49},{"g":"t0","lon":58.5,"lat":-50.5},
{"g":"t0","lon":80.8,"lat":-49},{"g":"t0","lon":99.4,"lat":-41.9},{"g":"t0","lon":113.7,"lat":-33},{"g":"t0","lon":124.8,"lat":-22.7},{"g":"t0","lon":134.1,"lat":-11.4},{"g":"t0","lon":142.5,"lat":0},{"g":"t0","lon":150.9,"lat":11.4},{"g":"t0","lon":160.2,"lat":22.7},{"g":"t0","lon":171.3,"lat":33},{"g":"t0","lon":185.6,"lat":41.9},{"g":"t0","lon":204.2,"lat":49},
{"g":"t1","lon":-188.7,"lat":33},{"g":"t1","lon":-174.4,"lat":41.9},{"g":"t1","lon":-155.8,"lat":49},{"g":"t1","lon":-133,"lat":50.5},
{"g":"t1","lon":-110.7,"lat":49},{"g":"t1","lon":-92.1,"lat":41.9},{"g":"t1","lon":-77.8,"lat":33},{"g":"t1","lon":-66.7,"lat":22.7},{"g":"t1","lon":-57.4,"lat":11.4},{"g":"t1","lon":-49,"lat":0},{"g":"t1","lon":-40.6,"lat":-11.4},{"g":"t1","lon":-31.3,"lat":-22.7},{"g":"t1","lon":-20.2,"lat":-33},{"g":"t1","lon":-5.9,"lat":-41.9},{"g":"t1","lon":12.7,"lat":-49},{"g":"t1","lon":35,"lat":-50.5},
{"g":"t1","lon":57.3,"lat":-49},{"g":"t1","lon":75.9,"lat":-41.9},{"g":"t1","lon":90.2,"lat":-33},{"g":"t1","lon":101.3,"lat":-22.7},{"g":"t1","lon":110.6,"lat":-11.4},{"g":"t1","lon":119,"lat":0},{"g":"t1","lon":127.4,"lat":11.4},{"g":"t1","lon":136.7,"lat":22.7},{"g":"t1","lon":147.8,"lat":33},{"g":"t1","lon":162.1,"lat":41.9},{"g":"t1","lon":180.7,"lat":49},{"g":"t1","lon":203,"lat":50.5},
{"g":"t2","lon":-212.2,"lat":33},{"g":"t2","lon":-197.9,"lat":41.9},{"g":"t2","lon":-179.3,"lat":49},{"g":"t2","lon":-156.5,"lat":50.5},
{"g":"t2","lon":-134.2,"lat":49},{"g":"t2","lon":-115.6,"lat":41.9},{"g":"t2","lon":-101.3,"lat":33},{"g":"t2","lon":-90.2,"lat":22.7},{"g":"t2","lon":-80.9,"lat":11.4},{"g":"t2","lon":-72.5,"lat":0},{"g":"t2","lon":-64.1,"lat":-11.4},{"g":"t2","lon":-54.8,"lat":-22.7},{"g":"t2","lon":-43.7,"lat":-33},{"g":"t2","lon":-29.4,"lat":-41.9},{"g":"t2","lon":-10.8,"lat":-49},{"g":"t2","lon":11.5,"lat":-50.5},
{"g":"t2","lon":33.8,"lat":-49},{"g":"t2","lon":52.4,"lat":-41.9},{"g":"t2","lon":66.7,"lat":-33},{"g":"t2","lon":77.8,"lat":-22.7},{"g":"t2","lon":87.1,"lat":-11.4},{"g":"t2","lon":95.5,"lat":0},{"g":"t2","lon":103.9,"lat":11.4},{"g":"t2","lon":113.2,"lat":22.7},{"g":"t2","lon":124.3,"lat":33},{"g":"t2","lon":138.6,"lat":41.9},{"g":"t2","lon":157.2,"lat":49},{"g":"t2","lon":179.5,"lat":50.5},{"g":"t2","lon":201.8,"lat":49},
{"g":"t3","lon":-202.3,"lat":49},{"g":"t3","lon":-180,"lat":50.5},{"g":"t3","lon":-157.7,"lat":49},{"g":"t3","lon":-139.1,"lat":41.9},{"g":"t3","lon":-124.8,"lat":33},{"g":"t3","lon":-113.7,"lat":22.7},{"g":"t3","lon":-104.4,"lat":11.4},{"g":"t3","lon":-96,"lat":0},{"g":"t3","lon":-87.6,"lat":-11.4},{"g":"t3","lon":-78.3,"lat":-22.7},{"g":"t3","lon":-67.2,"lat":-33},{"g":"t3","lon":-52.9,"lat":-41.9},{"g":"t3","lon":-34.3,"lat":-49},{"g":"t3","lon":-12,"lat":-50.5},
{"g":"t3","lon":10.3,"lat":-49},{"g":"t3","lon":28.9,"lat":-41.9},{"g":"t3","lon":43.2,"lat":-33},{"g":"t3","lon":54.3,"lat":-22.7},{"g":"t3","lon":63.6,"lat":-11.4},{"g":"t3","lon":72,"lat":0},{"g":"t3","lon":80.4,"lat":11.4},{"g":"t3","lon":89.7,"lat":22.7},{"g":"t3","lon":100.8,"lat":33},{"g":"t3","lon":115.1,"lat":41.9},{"g":"t3","lon":133.7,"lat":49},{"g":"t3","lon":156.5,"lat":50.5},{"g":"t3","lon":178.8,"lat":49},{"g":"t3","lon":197.4,"lat":41.9},
{"g":"t4","lon":-203.5,"lat":50.5},{"g":"t4","lon":-181.2,"lat":49},{"g":"t4","lon":-162.6,"lat":41.9},{"g":"t4","lon":-148.3,"lat":33},{"g":"t4","lon":-137.2,"lat":22.7},{"g":"t4","lon":-127.9,"lat":11.4},{"g":"t4","lon":-119.5,"lat":0},{"g":"t4","lon":-111.1,"lat":-11.4},{"g":"t4","lon":-101.8,"lat":-22.7},{"g":"t4","lon":-90.7,"lat":-33},{"g":"t4","lon":-76.4,"lat":-41.9},{"g":"t4","lon":-57.8,"lat":-49},{"g":"t4","lon":-35.5,"lat":-50.5},
{"g":"t4","lon":-13.2,"lat":-49},{"g":"t4","lon":5.4,"lat":-41.9},{"g":"t4","lon":19.7,"lat":-33},{"g":"t4","lon":30.8,"lat":-22.7},{"g":"t4","lon":40.1,"lat":-11.4},{"g":"t4","lon":48.5,"lat":0},{"g":"t4","lon":56.9,"lat":11.4},{"g":"t4","lon":66.2,"lat":22.7},{"g":"t4","lon":77.3,"lat":33},{"g":"t4","lon":91.6,"lat":41.9},{"g":"t4","lon":110.2,"lat":49},{"g":"t4","lon":133,"lat":50.5},{"g":"t4","lon":155.3,"lat":49},{"g":"t4","lon":173.9,"lat":41.9},{"g":"t4","lon":188.2,"lat":33},
{"g":"t5","lon":-227,"lat":50.5},{"g":"t5","lon":-204.7,"lat":49},{"g":"t5","lon":-186.1,"lat":41.9},{"g":"t5","lon":-171.8,"lat":33},{"g":"t5","lon":-160.7,"lat":22.7},{"g":"t5","lon":-151.4,"lat":11.4},{"g":"t5","lon":-143,"lat":0},{"g":"t5","lon":-134.6,"lat":-11.4},{"g":"t5","lon":-125.3,"lat":-22.7},{"g":"t5","lon":-114.2,"lat":-33},{"g":"t5","lon":-99.9,"lat":-41.9},{"g":"t5","lon":-81.3,"lat":-49},{"g":"t5","lon":-59,"lat":-50.5},
{"g":"t5","lon":-36.7,"lat":-49},{"g":"t5","lon":-18.1,"lat":-41.9},{"g":"t5","lon":-3.8,"lat":-33},{"g":"t5","lon":7.3,"lat":-22.7},{"g":"t5","lon":16.6,"lat":-11.4},{"g":"t5","lon":25,"lat":0},{"g":"t5","lon":33.4,"lat":11.4},{"g":"t5","lon":42.7,"lat":22.7},{"g":"t5","lon":53.8,"lat":33},{"g":"t5","lon":68.1,"lat":41.9},{"g":"t5","lon":86.7,"lat":49},{"g":"t5","lon":109.5,"lat":50.5},{"g":"t5","lon":131.8,"lat":49},{"g":"t5","lon":150.4,"lat":41.9},{"g":"t5","lon":164.7,"lat":33},{"g":"t5","lon":175.8,"lat":22.7},{"g":"t5","lon":185.1,"lat":11.4},
{"g":"t6","lon":-195.3,"lat":33},{"g":"t6","lon":-184.2,"lat":22.7},{"g":"t6","lon":-174.9,"lat":11.4},{"g":"t6","lon":-166.5,"lat":0},{"g":"t6","lon":-158.1,"lat":-11.4},{"g":"t6","lon":-148.8,"lat":-22.7},{"g":"t6","lon":-137.7,"lat":-33},{"g":"t6","lon":-123.4,"lat":-41.9},{"g":"t6","lon":-104.8,"lat":-49},{"g":"t6","lon":-82.5,"lat":-50.5},
{"g":"t6","lon":-60.2,"lat":-49},{"g":"t6","lon":-41.6,"lat":-41.9},{"g":"t6","lon":-27.3,"lat":-33},{"g":"t6","lon":-16.2,"lat":-22.7},{"g":"t6","lon":-6.9,"lat":-11.4},{"g":"t6","lon":1.5,"lat":0},{"g":"t6","lon":9.9,"lat":11.4},{"g":"t6","lon":19.2,"lat":22.7},{"g":"t6","lon":30.3,"lat":33},{"g":"t6","lon":44.6,"lat":41.9},{"g":"t6","lon":63.2,"lat":49},{"g":"t6","lon":86,"lat":50.5},{"g":"t6","lon":108.3,"lat":49},{"g":"t6","lon":126.9,"lat":41.9},{"g":"t6","lon":141.2,"lat":33},{"g":"t6","lon":152.3,"lat":22.7},{"g":"t6","lon":161.6,"lat":11.4},{"g":"t6","lon":170,"lat":0},{"g":"t6","lon":178.4,"lat":-11.4},{"g":"t6","lon":187.7,"lat":-22.7},
{"g":"t7","lon":-198.4,"lat":11.4},{"g":"t7","lon":-190,"lat":0},{"g":"t7","lon":-181.6,"lat":-11.4},{"g":"t7","lon":-172.3,"lat":-22.7},{"g":"t7","lon":-161.2,"lat":-33},{"g":"t7","lon":-146.9,"lat":-41.9},{"g":"t7","lon":-128.3,"lat":-49},{"g":"t7","lon":-106,"lat":-50.5},
{"g":"t7","lon":-83.7,"lat":-49},{"g":"t7","lon":-65.1,"lat":-41.9},{"g":"t7","lon":-50.8,"lat":-33},{"g":"t7","lon":-39.7,"lat":-22.7},{"g":"t7","lon":-30.4,"lat":-11.4},{"g":"t7","lon":-22,"lat":0},{"g":"t7","lon":-13.6,"lat":11.4},{"g":"t7","lon":-4.3,"lat":22.7},{"g":"t7","lon":6.8,"lat":33},{"g":"t7","lon":21.1,"lat":41.9},{"g":"t7","lon":39.7,"lat":49},{"g":"t7","lon":62,"lat":50.5}
]
},
"hconcat":[
{
"width":420,"height":331,
"title":{"text":["PySOL | ECI | Dynamics: Two-Body | 2022/03/21","00:00:00 – 12:00:00 UTC"],"fontSize":10.9,"fontWeight":"normal","color":"#333333","anchor":"middle","dx":-26,"offset":7,"lineHeight":13},
"encoding":{
"x":{"field":"u","type":"quantitative","scale":{"domain":[0,420],"nice":false,"zero":false},"axis":null},
"y":{"field":"v","type":"quantitative","scale":{"domain":[391,60],"nice":false,"zero":false},"axis":null}
},
"layer":[
{"data":{"name":"panes"},"mark":{"type":"line","interpolate":"linear-closed","stroke":null,"fill":"#f2f2f2"},"encoding":{"detail":{"field":"g"},"order":{"value":null}}},
{"data":{"name":"grid"},"mark":{"type":"rule","color":"#cdcdcd","strokeWidth":1},"encoding":{"x2":{"field":"u2"},"y2":{"field":"v2"}}},
{"data":{"name":"axes3d"},"mark":{"type":"rule","color":"#444444","strokeWidth":1},"encoding":{"x2":{"field":"u2"},"y2":{"field":"v2"}}},
{"data":{"name":"parallels"},"mark":{"type":"point","filled":false,"shape":"M-1,0C-1,0.276,-0.5523,0.5,0,0.5C0.5523,0.5,1,0.276,1,0C1,-0.276,0.5523,-0.5,0,-0.5C-0.5523,-0.5,-1,-0.276,-1,0Z","stroke":"#3a3ae0","strokeWidth":0.5,"opacity":0.2},"encoding":{"size":{"field":"k","type":"quantitative","scale":{"type":"pow","exponent":2,"domain":[0,1],"range":[0,33856]},"legend":null}}},
{"data":{"name":"meridians"},"mark":{"type":"point","filled":false,"size":33856,"stroke":"#3a3ae0","strokeWidth":0.5,"opacity":0.2},"encoding":{"angle":{"field":"rot","type":"quantitative","scale":null},"shape":{"field":"q","type":"nominal","legend":null,"scale":{"domain":["m0","m5","m10","m15","m20","m25","m30","m35","m40","m45","m50","m55","m60","m65","m70","m75","m80","m85","m90"],"range":[
"M-1,0C-1,0.478,-0.5523,0.866,0,0.866C0.5523,0.866,1,0.478,1,0C1,-0.478,0.5523,-0.866,0,-0.866C-0.5523,-0.866,-1,-0.478,-1,0Z",
"M-1,0C-1,0.477,-0.5523,0.863,0,0.863C0.5523,0.863,1,0.477,1,0C1,-0.477,0.5523,-0.863,0,-0.863C-0.5523,-0.863,-1,-0.477,-1,0Z",
"M-1,0C-1,0.471,-0.5523,0.853,0,0.853C0.5523,0.853,1,0.471,1,0C1,-0.471,0.5523,-0.853,0,-0.853C-0.5523,-0.853,-1,-0.471,-1,0Z",
"M-1,0C-1,0.462,-0.5523,0.836,0,0.836C0.5523,0.836,1,0.462,1,0C1,-0.462,0.5523,-0.836,0,-0.836C-0.5523,-0.836,-1,-0.462,-1,0Z",
"M-1,0C-1,0.45,-0.5523,0.814,0,0.814C0.5523,0.814,1,0.45,1,0C1,-0.45,0.5523,-0.814,0,-0.814C-0.5523,-0.814,-1,-0.45,-1,0Z",
"M-1,0C-1,0.434,-0.5523,0.785,0,0.785C0.5523,0.785,1,0.434,1,0C1,-0.434,0.5523,-0.785,0,-0.785C-0.5523,-0.785,-1,-0.434,-1,0Z",
"M-1,0C-1,0.414,-0.5523,0.75,0,0.75C0.5523,0.75,1,0.414,1,0C1,-0.414,0.5523,-0.75,0,-0.75C-0.5523,-0.75,-1,-0.414,-1,0Z",
"M-1,0C-1,0.392,-0.5523,0.709,0,0.709C0.5523,0.709,1,0.392,1,0C1,-0.392,0.5523,-0.709,0,-0.709C-0.5523,-0.709,-1,-0.392,-1,0Z",
"M-1,0C-1,0.366,-0.5523,0.663,0,0.663C0.5523,0.663,1,0.366,1,0C1,-0.366,0.5523,-0.663,0,-0.663C-0.5523,-0.663,-1,-0.366,-1,0Z",
"M-1,0C-1,0.338,-0.5523,0.612,0,0.612C0.5523,0.612,1,0.338,1,0C1,-0.338,0.5523,-0.612,0,-0.612C-0.5523,-0.612,-1,-0.338,-1,0Z",
"M-1,0C-1,0.308,-0.5523,0.557,0,0.557C0.5523,0.557,1,0.308,1,0C1,-0.308,0.5523,-0.557,0,-0.557C-0.5523,-0.557,-1,-0.308,-1,0Z",
"M-1,0C-1,0.274,-0.5523,0.497,0,0.497C0.5523,0.497,1,0.274,1,0C1,-0.274,0.5523,-0.497,0,-0.497C-0.5523,-0.497,-1,-0.274,-1,0Z",
"M-1,0C-1,0.239,-0.5523,0.433,0,0.433C0.5523,0.433,1,0.239,1,0C1,-0.239,0.5523,-0.433,0,-0.433C-0.5523,-0.433,-1,-0.239,-1,0Z",
"M-1,0C-1,0.202,-0.5523,0.366,0,0.366C0.5523,0.366,1,0.202,1,0C1,-0.202,0.5523,-0.366,0,-0.366C-0.5523,-0.366,-1,-0.202,-1,0Z",
"M-1,0C-1,0.163,-0.5523,0.296,0,0.296C0.5523,0.296,1,0.163,1,0C1,-0.163,0.5523,-0.296,0,-0.296C-0.5523,-0.296,-1,-0.163,-1,0Z",
"M-1,0C-1,0.124,-0.5523,0.224,0,0.224C0.5523,0.224,1,0.124,1,0C1,-0.124,0.5523,-0.224,0,-0.224C-0.5523,-0.224,-1,-0.124,-1,0Z",
"M-1,0C-1,0.083,-0.5523,0.15,0,0.15C0.5523,0.15,1,0.083,1,0C1,-0.083,0.5523,-0.15,0,-0.15C-0.5523,-0.15,-1,-0.083,-1,0Z",
"M-1,0C-1,0.041,-0.5523,0.075,0,0.075C0.5523,0.075,1,0.041,1,0C1,-0.041,0.5523,-0.075,0,-0.075C-0.5523,-0.075,-1,-0.041,-1,0Z",
"M-1,0L1,0Z"
]}}}},
{"data":{"name":"eci"},"mark":{"type":"rule","color":"#111111","strokeWidth":1.5},"encoding":{"x2":{"field":"u2"},"y2":{"field":"v2"}}},
{"data":{"name":"orbit"},"mark":{"type":"line","interpolate":"cardinal-closed","stroke":"#007a00","strokeWidth":1.8},"encoding":{"order":{"field":"o"}}},
{"data":{"name":"sat"},"mark":{"type":"point","filled":true,"size":20,"stroke":"#006400","strokeWidth":1,"opacity":1},"encoding":{"color":{"field":"series","type":"nominal","scale":{"range":["#000000"]},"legend":{"title":null,"orient":"none","legendX":295,"legendY":-22,"fillColor":"#ffffff","strokeColor":"#dddddd","cornerRadius":2,"padding":4,"labelFontSize":8.8,"labelColor":"#333333","symbolSize":16,"symbolType":"circle","symbolStrokeColor":"#006400","labelOffset":12,"symbolOffset":5}}}},
{"data":{"name":"labels3d"},"mark":{"type":"text","fontSize":8.8,"color":"#333333","align":"center","baseline":"middle"},"encoding":{"text":{"field":"t"},"angle":{"field":"a","type":"quantitative","scale":null}}},
{"data":{"name":"capA"},"mark":{"type":"text","font":"Liberation Serif","fontSize":37,"color":"#111111","align":"center","baseline":"middle"},"encoding":{"text":{"field":"t"}}}
]
},
{
"width":620,"height":331,
"view":{"stroke":"#333333","strokeWidth":1.2},
"title":{"text":["PySOL | Ground Tracks | Dynamics: Two-Body | 2022/03/21","00:00:00 – 12:00:00 UTC"],"fontSize":20.8,"fontWeight":"normal","color":"#333333","anchor":"middle","offset":6,"lineHeight":24},
"encoding":{
"x":{"field":"lon","type":"quantitative","scale":{"domain":[-180,180],"nice":false,"zero":false},"axis":{"title":"Longitude [deg]","values":[-150,-100,-50,0,50,100,150],"grid":false,"domain":false,"tickSize":5,"tickColor":"#333333","labelFontSize":16.5,"labelColor":"#333333","titleFontSize":17,"titleFontWeight":"normal","titleColor":"#333333","labelPadding":5,"titlePadding":9}},
"y":{"field":"lat","type":"quantitative","scale":{"domain":[-90,90],"nice":false,"zero":false},"axis":{"title":"Lattitude [deg]","values":[-75,-50,-25,0,25,50,75],"grid":false,"domain":false,"tickSize":5,"tickColor":"#333333","labelFontSize":16.5,"labelColor":"#333333","titleFontSize":17,"titleFontWeight":"normal","titleColor":"#333333","labelPadding":4,"titlePadding":14}}
},
"layer":[
{"data":{"name":"land"},"mark":{"type":"line","interpolate":"linear-closed","fill":"#d4d4d4","stroke":"#a6a6a6","strokeWidth":1.2,"clip":true},"encoding":{"detail":{"field":"g"},"order":{"value":null}}},
{"data":{"name":"caspian"},"mark":{"type":"line","interpolate":"linear-closed","fill":"#ffffff","stroke":"#a6a6a6","strokeWidth":1},"encoding":{"detail":{"field":"g"},"order":{"value":null}}},
{"data":{"name":"borders"},"mark":{"type":"line","stroke":"#6e6e6e","strokeWidth":1},"encoding":{"detail":{"field":"g"},"order":{"value":null}}},
{"data":{"name":"track"},"mark":{"type":"line","interpolate":"monotone","stroke":"#008000","strokeWidth":7,"strokeCap":"round","clip":true},"encoding":{"detail":{"field":"g"}}},
{"data":{"name":"satB"},"mark":{"type":"point","filled":true,"size":30,"opacity":1},"encoding":{"color":{"field":"series","type":"nominal","scale":{"range":["#008000"]},"legend":{"title":null,"orient":"top-right","offset":9,"fillColor":"rgba(255,255,255,0.8)","strokeColor":"#dddddd","cornerRadius":3,"padding":7,"labelFontSize":17,"labelColor":"#333333","symbolSize":30,"symbolType":"circle","labelOffset":22,"symbolOffset":9}}}},
{"data":{"name":"capB"},"mark":{"type":"text","font":"Liberation Serif","fontSize":37,"color":"#111111","align":"center","baseline":"middle"},"encoding":{"text":{"field":"t"}}}
]
}
]
}
